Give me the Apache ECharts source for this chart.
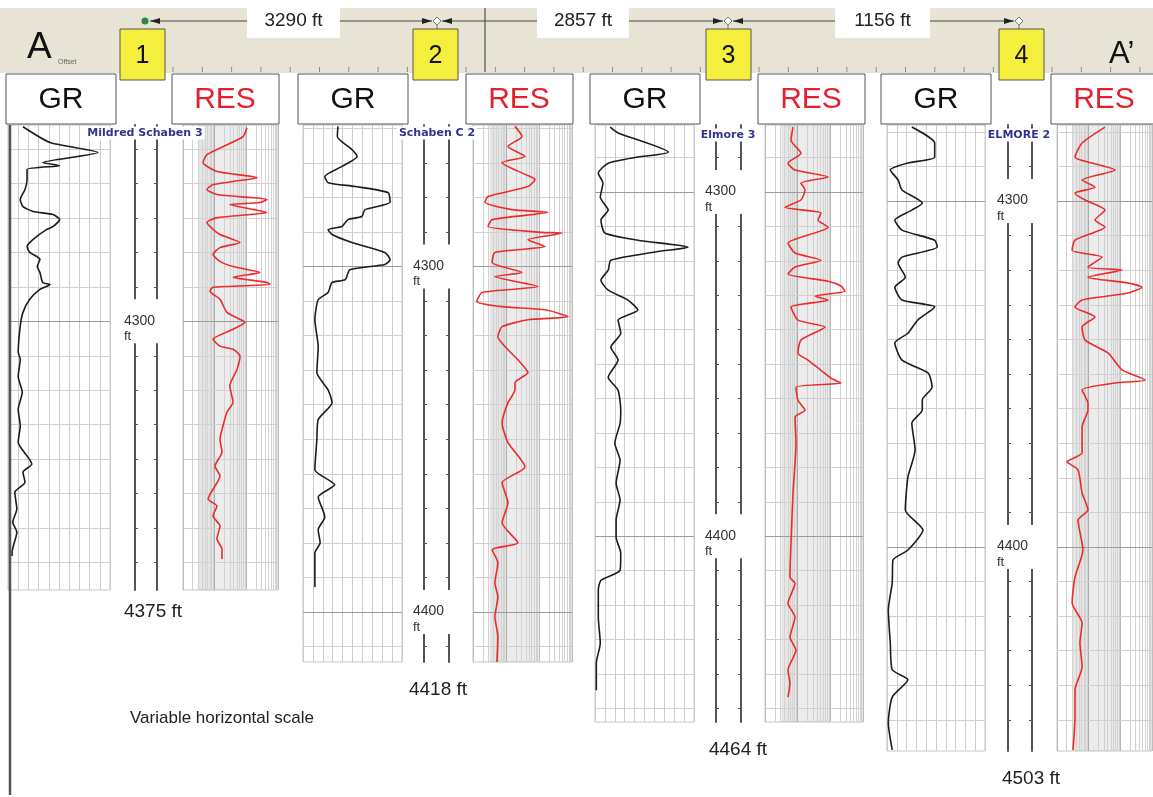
<!DOCTYPE html>
<html><head><meta charset="utf-8">
<script src="https://cdn.jsdelivr.net/npm/echarts@6/dist/echarts.min.js"></script>
<style>html,body{margin:0;padding:0;background:#fff}#c{width:1153px;height:797px}</style>
</head><body><div id="c"></div>
<script>
// ---------------- DATA ----------------
const wellNumbers = ['1', '2', '3', '4'];
const wellNames = ['Mildred Schaben 3', 'Schaben C 2', 'Elmore 3', 'ELMORE 2'];
const distancesFt = [3290, 2857, 1156];
const totalDepthsFt = [4375, 4418, 4464, 4503];
const viewTopFt = [4243, 4259, 4280.5, 4278];
const viewBottomFt = [4378, 4414.5, 4454, 4459];
const depthLabelsFt = [[4300], [4300, 4400], [4300, 4400], [4300, 4400]];
const trackTitles = ['GR', 'RES'];
const grRangeApi = [0, 150];
const resRangeOhmm = [1, 1000];

// [depth ft, GR API]
const grWell1 = [[4243.5,22],[4248.1,62],[4251.0,132],[4253.9,51],[4254.8,76],[4255.9,28],[4258.8,28],[4261.7,25],[4264.6,18],[4266.7,22],[4268.1,37],[4269.0,66],[4270.4,76],[4272.5,66],[4273.3,57],[4276.2,37],[4278.3,28],[4280.0,32],[4282.0,47],[4284.1,43],[4285.8,47],[4288.7,51],[4289.3,62],[4290.7,47],[4293.6,32],[4297.4,22],[4301.4,18],[4309.0,15],[4311,18],[4316,15],[4320.6,21],[4325.5,15],[4330.4,18],[4335.1,15],[4341.4,35],[4343.8,22],[4346.7,25],[4349.6,10],[4354.5,13],[4358.3,7],[4361.2,13],[4367,6],[4368.1,6]];
const grWell2 = [[4259.4,53],[4262.3,52],[4266.1,74],[4268.1,82],[4271,59],[4273.9,33],[4275.7,38],[4276.8,79],[4278.6,129],[4281.4,132],[4283.5,94],[4285.5,89],[4286.4,68],[4288.4,59],[4289.3,38],[4290.7,44],[4293,74],[4295.9,124],[4298,132],[4299.4,124],[4300.9,71],[4303.8,64],[4304.6,44],[4307.5,38],[4309.6,23],[4315.4,18],[4323.2,23],[4330.7,21],[4335.7,38],[4339.4,44],[4344.3,23],[4350.1,21],[4358.8,18],[4363.2,48],[4366.7,23],[4372.5,33],[4376.2,23],[4380,26],[4382.9,18],[4392.8,18]];
const grWell3 = [[4281.1,23],[4282.8,35],[4288.4,111],[4289.8,65],[4291.6,20],[4294.5,5],[4297.4,12],[4301.5,8],[4305.2,20],[4308.1,9],[4311.9,15],[4314,65],[4316,141],[4317.4,91],[4319.8,24],[4322.7,20],[4325.6,9],[4328.5,20],[4331.4,50],[4334.3,65],[4337.2,35],[4341,39],[4345.1,24],[4348.8,35],[4353.8,20],[4357.6,35],[4363.4,39],[4367.2,38],[4373,30],[4377.9,38],[4384.6,32],[4389.5,38],[4395.3,32],[4400.3,32],[4404.9,39],[4409.9,38],[4412.8,9],[4415.7,5],[4423.5,5],[4431.1,8],[4436.9,2],[4444.8,2]];
const grWell4 = [[4278.6,38],[4283.2,73],[4287.3,73],[4289,32],[4291,5],[4293.9,17],[4296.8,23],[4300.6,54],[4302.6,38],[4305.5,12],[4308.4,23],[4311.3,73],[4313.3,77],[4316.2,23],[4317.9,17],[4322,28],[4324.9,12],[4328.6,23],[4330.6,73],[4334.4,47],[4338.2,32],[4341,12],[4346,23],[4349.7,63],[4353.8,69],[4357.5,54],[4360.4,54],[4364.2,38],[4372,43],[4379.8,32],[4389.3,28],[4395.1,55],[4400.9,32],[4403.8,9],[4410.4,8],[4418.2,2],[4427.7,5],[4435.5,8],[4438.4,32],[4443.4,8],[4450.9,2],[4458.7,8]];

// [depth ft, resistivity ohm-m]
const resWell1 = [[4243.8,105],[4246.4,78],[4251.6,5.7],[4253.9,4.3],[4256.5,11.8],[4258.3,218],[4259.4,38],[4260.3,8.9],[4261.7,5.7],[4263.2,11.8],[4264.6,447],[4265.5,270],[4266.1,30],[4267.5,162],[4268.4,447],[4269.9,11.8],[4271.3,5.7],[4273.3,8.9],[4274.8,14.7],[4277.1,63],[4278.6,14.7],[4280.6,8.9],[4282.6,14.7],[4284.1,38],[4285.8,270],[4287.2,38],[4288.7,447],[4289.3,560],[4290.1,8.9],[4291.3,7.1],[4293.6,14.7],[4297.4,24.4],[4299.4,63],[4300.3,91],[4302.3,38],[4305.2,8.9],[4307.2,14.7],[4308.1,38],[4310.1,63],[4313.9,51],[4318.8,30],[4323.5,38],[4326.4,24.4],[4330.4,18.3],[4334.2,14.7],[4338,17],[4342,10.2],[4344.9,14.7],[4351.6,6.2],[4353.6,11.8],[4356.5,8.9],[4359.4,14.7],[4363.2,11.8],[4366.1,17],[4369,17]];
const resWell2 = [[4259.4,18.7],[4262.3,30.5],[4265.2,11.5],[4268.1,37.7],[4269.9,7.6],[4273.3,37.7],[4274.8,75.7],[4276.8,46.4],[4279.7,2.85],[4281.4,2.3],[4283.5,15.2],[4284.3,187],[4286.4,3.8],[4288.4,2.85],[4290.1,123],[4290.3,498],[4292.2,46.4],[4294.2,152],[4295.9,4.6],[4298.8,3.8],[4301.7,30.5],[4302.9,4.6],[4305.8,93],[4307.5,1.9],[4310.1,1.3],[4311.6,7.6],[4312.5,152],[4314.5,757],[4315.4,46.4],[4317.4,7.6],[4320.3,5.7],[4324.1,11.5],[4327,23],[4330.7,46.4],[4333.6,18.7],[4335.7,18.7],[4339.4,11.5],[4345.2,7.6],[4351,11.5],[4358,37.7],[4362.6,7.6],[4368.4,11.5],[4374.2,7.6],[4380,23],[4382,3.8],[4385.8,5.7],[4391.6,4.6],[4395.7,5.7],[4401.4,4.6],[4407.2,5.7],[4414.5,5.3]];
const resWell3 = [[4281.1,7.2],[4284.9,6.25],[4288.7,12.6],[4291.6,5.06],[4293.6,8.3],[4295.6,85],[4297.4,12.6],[4299.4,16.8],[4302.3,12.6],[4304.4,4.1],[4306.1,52],[4308.1,42],[4310.2,85],[4314.8,5.06],[4317.7,8.3],[4319.8,52],[4321.8,8.3],[4323.8,5.06],[4325.9,85],[4327.3,212],[4328.8,281],[4330.2,34],[4331.4,85],[4333.4,6.25],[4337.2,10.2],[4339.2,69],[4343,12.6],[4346.8,10.2],[4348.8,20.7],[4354.1,105],[4355.5,212],[4356.7,8.9],[4360.5,10.2],[4363.4,16.8],[4365.4,8.3],[4373,8.9],[4387.5,7.2],[4402,6.25],[4411.9,5.8],[4413.7,8.3],[4419.5,5.06],[4423.5,8.3],[4429.4,5.8],[4433.1,8.9],[4438.9,5.06],[4442.7,5.8],[4446.8,5.06]];
const resWell4 = [[4278.6,32.8],[4283.2,6.2],[4287.3,3.7],[4289,12.7],[4291,68],[4293.9,6.2],[4296,15.8],[4297.7,3.7],[4299.7,7.7],[4302.6,32.8],[4305.5,15.8],[4307.5,32.8],[4311.3,3.7],[4314.2,3.0],[4316.2,26.4],[4319.1,9.5],[4319.9,113],[4322,9.5],[4323.7,174],[4324.9,481],[4326.6,174],[4328.6,6.2],[4330.6,3.7],[4333.5,15.8],[4336.4,6.2],[4340.2,7.7],[4343.9,40.8],[4348.8,113],[4351.7,600],[4352.6,68],[4354.6,6.2],[4358.4,9.5],[4360.4,9.5],[4365.3,6.2],[4372.8,6.2],[4375.4,2.07],[4377.7,4.6],[4384.4,6.2],[4389.3,9.5],[4392.2,4.6],[4400.9,6.6],[4408.7,3.7],[4416.2,3.0],[4422,6.2],[4427.7,5.3],[4434.7,6.2],[4441.3,3.7],[4449.1,3.7],[4458.7,3.2]];

const grData = [grWell1, grWell2, grWell3, grWell4];
const resData = [resWell1, resWell2, resWell3, resWell4];

// ---------------- LAYOUT ----------------
const FONT = '"Liberation Sans", Arial, sans-serif';
const L = [
  {gr:[8,110], dp:[135,157], res:[183,278], top:125, bottom:590, grBox:6, resBox:172, yBox:120, name:[145,133], td:[153,612]},
  {gr:[303,402], dp:[424,449], res:[473,572], top:125, bottom:662, grBox:298, resBox:466, yBox:413, name:[437,133], td:[438,690]},
  {gr:[595,694], dp:[716,741], res:[765,863], top:125, bottom:722, grBox:590, resBox:758, yBox:706, name:[728,135], td:[738,750]},
  {gr:[887,985], dp:[1008,1032], res:[1057,1152], top:125, bottom:751, grBox:881, resBox:1051, yBox:999, name:[1019,135], td:[1031,779]}
];

const grids = [], xAxes = [], yAxes = [], series = [];

L.forEach((w, i) => {
  const dMin = viewTopFt[i], dMax = viewBottomFt[i];
  const tens = [];
  for (let d = Math.ceil(dMin / 10) * 10; d <= dMax; d += 10) tens.push(d);
  const hLines = tens.map(d => ({yAxis: d, lineStyle: {color: d % 100 === 0 ? '#9c9c9c' : '#d0d0d0', width: 1, type: 'solid'}}));

  const gBase = grids.length;
  grids.push({left: w.gr[0], width: w.gr[1]-w.gr[0], top: w.top, height: w.bottom-w.top, show: true, borderColor: '#c6c6c6', borderWidth: 1, backgroundColor: '#fff'});
  grids.push({left: w.dp[0], width: w.dp[1]-w.dp[0], top: w.top, height: w.bottom-w.top, show: false});
  grids.push({left: w.res[0], width: w.res[1]-w.res[0], top: w.top, height: w.bottom-w.top, show: true, borderColor: '#c6c6c6', borderWidth: 1, backgroundColor: '#fff'});

  const xBase = xAxes.length;
  xAxes.push({gridIndex: gBase, type: 'value', min: grRangeApi[0], max: grRangeApi[1], interval: 15,
    axisLine: {show: false}, axisTick: {show: false}, axisLabel: {show: false},
    splitLine: {show: true, lineStyle: {color: '#cbcbcb', width: 1}}});
  xAxes.push({gridIndex: gBase+1, type: 'value', min: 0, max: 1, show: false});
  xAxes.push({gridIndex: gBase+2, type: 'log', logBase: 10, min: resRangeOhmm[0], max: resRangeOhmm[1],
    axisLine: {show: false}, axisTick: {show: false}, axisLabel: {show: false},
    splitLine: {show: true, lineStyle: {color: '#bdbdbd', width: 1}}});

  const yBase = yAxes.length;
  const plainY = (g) => ({gridIndex: g, type: 'value', inverse: true, min: dMin, max: dMax,
    axisLine: {show: false}, axisTick: {show: false}, axisLabel: {show: false}, splitLine: {show: false}});
  yAxes.push(plainY(gBase));
  yAxes.push({gridIndex: gBase+1, type: 'value', position: 'left', inverse: true, min: dMin, max: dMax, z: 6,
    axisLine: {show: true, onZero: false, lineStyle: {color: '#555', width: 2}},
    axisTick: {show: true, inside: true, length: 3, customValues: tens, lineStyle: {color: '#555', width: 1}},
    axisLabel: {show: true, customValues: depthLabelsFt[i], align: 'left', margin: 13,
      backgroundColor: '#fff', padding: [0, 7, 0, 2],
      formatter: v => '{e| }\n{a|' + v + '}\n{b|ft}',
      rich: {e: {fontSize: 10, lineHeight: 13}, a: {fontSize: 14, lineHeight: 17, color: '#333', fontFamily: FONT},
             b: {fontSize: 13, lineHeight: 14, color: '#333', fontFamily: FONT}}},
    splitLine: {show: false}});
  yAxes.push({gridIndex: gBase+1, type: 'value', position: 'right', inverse: true, min: dMin, max: dMax, z: 1,
    axisLine: {show: true, onZero: false, lineStyle: {color: '#555', width: 2}},
    axisTick: {show: true, inside: true, length: 3, customValues: tens, lineStyle: {color: '#555', width: 1}},
    axisLabel: {show: false}, splitLine: {show: false}});
  yAxes.push(plainY(gBase+2));

  series.push({type: 'line', xAxisIndex: xBase, yAxisIndex: yBase, data: [], silent: true, z: 1,
    markLine: {silent: true, symbol: 'none', label: {show: false}, z: 1, data: hLines}});
  const minor = [];
  [1, 10, 100].forEach(dec => { for (let k = 2; k <= 9; k++) minor.push({xAxis: k * dec, lineStyle: {color: '#d2d2d2', width: 1, type: 'solid'}}); });
  series.push({type: 'line', xAxisIndex: xBase+2, yAxisIndex: yBase+3, data: [], silent: true, z: 1,
    markArea: {silent: true, z: 1, data: [
      [{xAxis: 3.2, itemStyle: {color: 'rgba(0,0,0,0.10)'}}, {xAxis: 10}],
      [{xAxis: 10, itemStyle: {color: 'rgba(0,0,0,0.075)'}}, {xAxis: 100}]
    ]},
    markLine: {silent: true, symbol: 'none', label: {show: false}, z: 1, data: minor.concat(hLines)}});

  series.push({type: 'line', name: 'GR ' + wellNames[i], xAxisIndex: xBase, yAxisIndex: yBase, z: 5,
    data: grData[i].map(p => [p[1], p[0]]), showSymbol: false, smooth: 0.2,
    lineStyle: {color: '#1c1c1c', width: 1.6}});
  series.push({type: 'line', name: 'RES ' + wellNames[i], xAxisIndex: xBase+2, yAxisIndex: yBase+3, z: 5,
    data: resData[i].map(p => [p[1], p[0]]), showSymbol: false, smooth: 0.2,
    lineStyle: {color: '#ee2b2b', width: 1.6}});
});

// ---------------- GRAPHICS (header / annotations) ----------------
const T = (x, y, text, font, fill, align, vAlign, extra) => Object.assign({type: 'text', z: 20,
  style: Object.assign({x, y, text, font, fill, align: align || 'center', textAlign: align || 'center',
    verticalAlign: vAlign || 'middle', textVerticalAlign: vAlign || 'middle'}, extra || {})});

const gfx = [];
gfx.push({type: 'rect', z: 10, shape: {x: 0, y: 8, width: 1153, height: 65}, style: {fill: '#e8e4d5'}});
for (let x = 173; x < 1150; x += 29.3) {
  gfx.push({type: 'line', z: 11, shape: {x1: x, y1: 67, x2: x, y2: 72}, style: {stroke: '#8a8a8a', lineWidth: 1}});
}
gfx.push({type: 'line', z: 11, shape: {x1: 485, y1: 8, x2: 485, y2: 72}, style: {stroke: '#6e6e6e', lineWidth: 1.5}});

const wellX = [145, 437, 728, 1019];
const arrowY = 21;
for (let s = 0; s < 3; s++) {
  const a = wellX[s] + 5, b = wellX[s+1] - 5;
  gfx.push({type: 'line', z: 12, shape: {x1: a, y1: arrowY, x2: b, y2: arrowY}, style: {stroke: '#444', lineWidth: 1}});
  gfx.push({type: 'polygon', z: 12, shape: {points: [[a, arrowY], [a+10, arrowY-3], [a+10, arrowY+3]]}, style: {fill: '#222'}});
  gfx.push({type: 'polygon', z: 12, shape: {points: [[b, arrowY], [b-10, arrowY-3], [b-10, arrowY+3]]}, style: {fill: '#222'}});
}
const labelBoxes = [[247, 93], [537, 92], [835, 95]];
distancesFt.forEach((d, s) => {
  const bx = labelBoxes[s];
  gfx.push({type: 'rect', z: 13, shape: {x: bx[0], y: 8, width: bx[1], height: 30}, style: {fill: '#fff'}});
  gfx.push(T(bx[0] + bx[1] / 2, 21, d + ' ft', '19px ' + FONT, '#222'));
});
gfx.push({type: 'circle', z: 14, shape: {cx: wellX[0], cy: arrowY, r: 3.5}, style: {fill: '#2e8b3e'}});
for (let s = 1; s < 4; s++) {
  const cx = wellX[s];
  gfx.push({type: 'line', z: 13, shape: {x1: cx, y1: arrowY + 4, x2: cx, y2: 29}, style: {stroke: '#777', lineWidth: 1}});
  gfx.push({type: 'polygon', z: 14, shape: {points: [[cx, arrowY-4], [cx+4, arrowY], [cx, arrowY+4], [cx-4, arrowY]]}, style: {fill: '#fff', stroke: '#777', lineWidth: 1}});
}
gfx.push(T(27, 48, 'A', '37px ' + FONT, '#111', 'left'));
gfx.push(T(58, 62, 'Offset', '7px ' + FONT, '#666', 'left'));
gfx.push(T(1109, 54, 'A\u2019', '31px ' + FONT, '#111', 'left'));

L.forEach((w, i) => {
  gfx.push({type: 'rect', z: 15, shape: {x: w.grBox, y: 74, width: 110, height: 50}, style: {fill: '#fff', stroke: '#555', lineWidth: 1}});
  gfx.push(T(w.grBox + 55, 100, trackTitles[0], '30px ' + FONT, '#111'));
  gfx.push({type: 'rect', z: 15, shape: {x: w.resBox, y: 74, width: 107, height: 50}, style: {fill: '#fff', stroke: '#555', lineWidth: 1}});
  gfx.push(T(w.resBox + 53, 100, trackTitles[1], '30px ' + FONT, '#e5202e'));
  gfx.push({type: 'rect', z: 16, shape: {x: w.yBox, y: 29, width: 45, height: 51}, style: {fill: '#f6ee3c', stroke: '#555', lineWidth: 1}});
  gfx.push(T(w.yBox + 22.5, 56, wellNumbers[i], '25px ' + FONT, '#111'));
  gfx.push(T(w.name[0], w.name[1], wellNames[i], 'bold 11px "DejaVu Sans", ' + FONT, '#2f3590', 'center', 'middle',
    {backgroundColor: '#fff', padding: [1, 2]}));
  gfx.push(T(w.td[0], w.td[1], totalDepthsFt[i] + ' ft', '19px ' + FONT, '#222'));
});
gfx.push({type: 'line', z: 16, shape: {x1: 10, y1: 125, x2: 10, y2: 795}, style: {stroke: '#555', lineWidth: 2.5}});
gfx.push(T(130, 718, 'Variable horizontal scale', '17px ' + FONT, '#222', 'left'));

const chart = echarts.init(document.getElementById('c'), null, {renderer: 'canvas'});
chart.setOption({
  animation: false,
  backgroundColor: '#fff',
  textStyle: {fontFamily: FONT},
  grid: grids, xAxis: xAxes, yAxis: yAxes, series: series,
  graphic: {elements: gfx}
});
</script></body></html>
